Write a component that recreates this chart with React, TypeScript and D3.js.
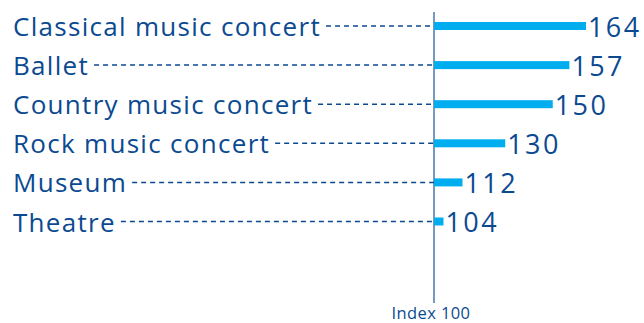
import React, { useEffect, useRef } from "react";
import * as d3 from "d3";

const categories = [
  "Classical music concert",
  "Ballet",
  "Country music concert",
  "Rock music concert",
  "Museum",
  "Theatre",
];
const values = [164, 157, 150, 130, 112, 104];
const baselineValue = 100;
const axisLabel = "Index 100";

const W = 644;
const H = 323;
const TEXT = "#0b4a91";
const BAR = "#00aeef";
const FONT = "'Open Sans', sans-serif";

export default function App() {
  const ref = useRef<SVGSVGElement | null>(null);

  useEffect(() => {
    const svg = d3.select(ref.current);
    svg.selectAll("*").remove();

    const x = d3.scaleLinear().domain([baselineValue, 164]).range([434, 586]);
    const y = d3.scalePoint<string>().domain(categories).range([26, 221.5]);

    const rows = categories.map((c, i) => ({ c, v: values[i] }));

    // axis line
    svg
      .append("line")
      .attr("x1", x(baselineValue))
      .attr("x2", x(baselineValue))
      .attr("y1", 12)
      .attr("y2", 303)
      .attr("stroke", "#1d5596")
      .attr("stroke-width", 1.2);

    svg
      .append("text")
      .attr("x", x(baselineValue) - 3)
      .attr("y", 319)
      .attr("text-anchor", "middle")
      .attr("font-family", FONT)
      .attr("font-size", 16.5)
      .attr("font-weight", 500)
      .attr("letter-spacing", 0.4)
      .attr("fill", TEXT)
      .text(axisLabel);

    const g = svg.selectAll("g.row").data(rows).join("g").attr("class", "row");

    // category labels
    const labels = g
      .append("text")
      .attr("x", 13)
      .attr("y", (d) => Math.max((y(d.c) as number) + 10, 29.5))
      .attr("font-family", FONT)
      .attr("font-size", 26)
      .attr("font-weight", 500)
      .attr("letter-spacing", 1.3)
      .attr("fill", TEXT)
      .text((d) => d.c);

    // dashed leaders
    labels.each(function (d) {
      const w = (this as SVGTextElement).getComputedTextLength();
      const parent = d3.select((this as SVGTextElement).parentNode as SVGGElement);
      parent
        .insert("line", "text")
        .attr("x1", 13 + w + 5)
        .attr("x2", x(baselineValue))
        .attr("y1", y(d.c) as number)
        .attr("y2", y(d.c) as number)
        .attr("stroke", TEXT)
        .attr("stroke-width", 1.5)
        .attr("stroke-dasharray", "5,4");
    });

    // bars
    g.append("rect")
      .attr("x", x(baselineValue))
      .attr("y", (d) => (y(d.c) as number) - 4)
      .attr("width", (d) => x(d.v) - x(baselineValue))
      .attr("height", 8)
      .attr("fill", BAR);

    // value labels
    g.append("text")
      .attr("x", (d) => x(d.v) + 2)
      .attr("y", (d) => (y(d.c) as number) + 10.5)
      .attr("font-family", FONT)
      .attr("font-size", 27)
      .attr("font-weight", 500)
      .attr("letter-spacing", 2.4)
      .attr("fill", TEXT)
      .text((d) => String(d.v));
  }, []);

  return (
    <svg
      ref={ref}
      width={W}
      height={H}
      style={{ position: "absolute", left: 0, top: 0, background: "#fff" }}
    />
  );
}
